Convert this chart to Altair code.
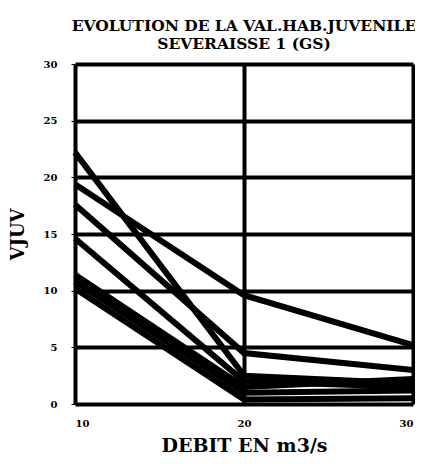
import altair as alt
import pandas as pd

debit = [10, 20, 30]
s1 = [22.2, 2.5, 1.8]
s2 = [19.4, 9.6, 5.2]
s3 = [17.6, 4.5, 3.0]
s4 = [14.6, 2.0, 1.5]
s5 = [11.4, 1.5, 2.2]
s6 = [10.8, 1.0, 1.2]
s7 = [10.2, 0.4, 0.5]
series = {"s1": s1, "s2": s2, "s3": s3, "s4": s4, "s5": s5, "s6": s6, "s7": s7}

rows = []
for name, vals in series.items():
    for x, v in zip(debit, vals):
        rows.append({"serie": name, "debit": x, "vjuv": v})
df = pd.DataFrame(rows)

FONT = "DejaVu Serif"

chart = alt.Chart(df).mark_line(color="black", strokeWidth=6, strokeCap="butt", strokeJoin="miter").encode(
    x=alt.X("debit:Q", scale=alt.Scale(domain=[10, 30], nice=False),
            axis=alt.Axis(values=[10, 20, 30], title="DEBIT EN m3/s", format="d",
                          grid=True, gridColor="black", gridWidth=4, gridOpacity=1,
                          domain=False, ticks=False, labelPadding=14,
                          labelFont=FONT, labelFontWeight="bold", labelFontSize=10,
                          labelColor="black", titleFont=FONT, titleFontWeight="bold",
                          titleFontSize=19, titleColor="black", titlePadding=8)),
    y=alt.Y("vjuv:Q", scale=alt.Scale(domain=[0, 30], nice=False),
            axis=alt.Axis(values=[0, 5, 10, 15, 20, 25, 30], title="VJUV",
                          grid=True, gridColor="black", gridWidth=4, gridOpacity=1,
                          domain=False, ticks=True, tickSize=4, tickColor="black",
                          labelPadding=14,
                          labelFont=FONT, labelFontWeight="bold", labelFontSize=10,
                          labelColor="black", titleFont=FONT, titleFontWeight="bold",
                          titleFontSize=18, titleColor="black", titlePadding=16)),
    detail="serie:N",
).properties(
    width=338,
    height=340,
    title=alt.Title(["EVOLUTION DE LA VAL.HAB.JUVENILE", "SEVERAISSE 1 (GS)"],
                    font=FONT, fontWeight="bold", fontSize=15.5, color="black",
                    anchor="middle", lineHeight=18, offset=7),
    autosize=alt.AutoSizeParams(type="none"),
    padding={"left": 67, "top": 56, "right": 2, "bottom": 52},
).configure_view(
    stroke="black", strokeWidth=5
).configure(background="white")

chart.save("out.html", embed_options={"renderer": "svg", "actions": False})
